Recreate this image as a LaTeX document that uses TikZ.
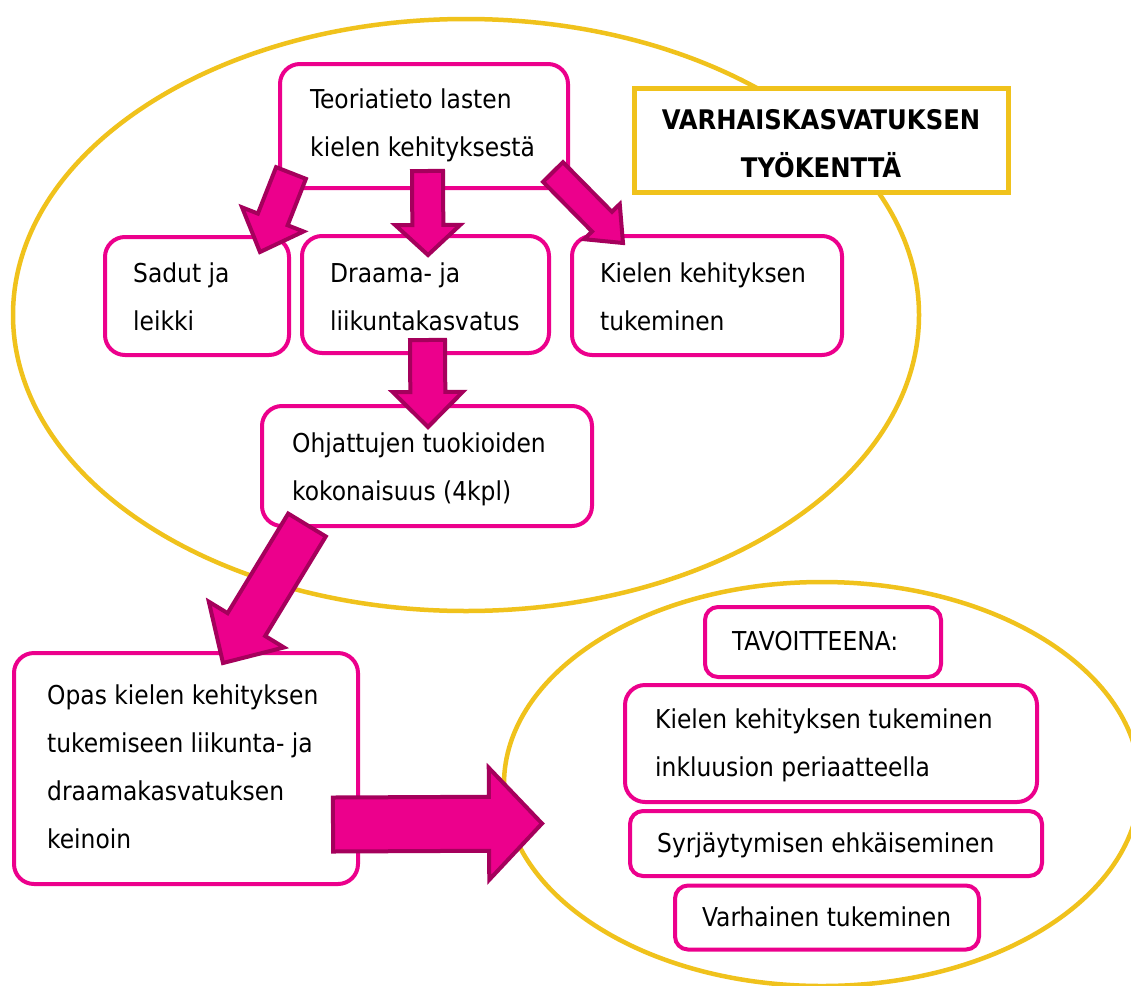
\documentclass[tikz,border=0pt]{standalone}
\usepackage{fontspec}
\setmainfont{DejaVu Sans Condensed}
\usetikzlibrary{calc,shapes.geometric}
\definecolor{pk}{HTML}{EC008C}
\definecolor{pkd}{HTML}{A5005C}
\definecolor{yl}{HTML}{F0C21C}
\newcommand{\tl}[1]{\parbox[t]{12cm}{\raggedright #1}}
\tikzset{
 box/.style={draw=pk, line width=4pt, rounded corners=20pt, fill=white, inner sep=0pt},
 sbox/.style={box, rounded corners=13pt},
 tbox/.style={draw=yl, line width=5pt, fill=white, inner sep=0pt},
 oval/.style={draw=yl, line width=4.5pt, ellipse, inner sep=0pt},
 txt/.style={anchor=base west, inner sep=0pt, font=\fontsize{26}{48}\selectfont},
 barr/.style={fill=pk, draw=pkd, line width=4pt, line join=miter},
}
\newcommand{\blockarrow}[5]{%
  \coordinate (hb) at ($(#2)!#5!(#1)$);
  \draw[barr] ($(#1)!#3!90:(#2)$) -- ($(hb)!#3!90:(#2)$) -- ($(hb)!#4!90:(#2)$) -- (#2)
    -- ($(hb)!#4!-90:(#2)$) -- ($(hb)!#3!-90:(#2)$) -- ($(#1)!#3!-90:(#2)$) -- cycle;
}
\begin{document}
\begin{tikzpicture}[x=1pt,y=-1pt]
\useasboundingbox[fill=white] (0,0) rectangle (1131,985);
% ovals
\node[oval, minimum width=906pt, minimum height=592pt] (field) at (466,315) {};
\node[oval, minimum width=636pt, minimum height=404pt] (goal) at (822,784) {};
% title
\node[tbox, minimum width=374pt, minimum height=104pt] (title) at (821,140) {};
\node[txt, anchor=base, font=\fontsize{27}{48}\selectfont] (titlet) at (821,129) {\parbox[t]{374pt}{\centering\bfseries VARHAISKASVATUKSEN\\TYÖKENTTÄ}};
% boxes
\node[box, minimum width=288pt, minimum height=124pt] (teo) at (424,126) {};
\node[txt] (teot) at (310,108.5) {\tl{Teoriatieto lasten\\kielen kehityksestä}};
\node[box, minimum width=184pt, minimum height=118pt] (sad) at (197,296) {};
\node[txt] (sadt) at (133,282) {\tl{Sadut ja\\leikki}};
\node[box, minimum width=247pt, minimum height=117pt] (dra) at (425.5,294.5) {};
\node[txt] (drat) at (330,282) {\tl{Draama- ja\\liikuntakasvatus}};
\node[box, minimum width=270pt, minimum height=119pt] (kie) at (707,295.5) {};
\node[txt] (kiet) at (600,282) {\tl{Kielen kehityksen\\tukeminen}};
\node[box, minimum width=330pt, minimum height=120pt] (ohj) at (427,466) {};
\node[txt] (ohjt) at (292,452) {\tl{Ohjattujen tuokioiden\\kokonaisuus (4kpl)}};
\node[box, minimum width=344pt, minimum height=231pt] (opa) at (186,768.5) {};
\node[txt] (opat) at (47,704) {\tl{Opas kielen kehityksen\\tukemiseen liikunta- ja\\draamakasvatuksen\\keinoin}};
\node[sbox, minimum width=236pt, minimum height=70pt] (tav) at (823,642) {};
\node[txt] (tavt) at (732,650) {\tl{TAVOITTEENA:}};
\node[box, minimum width=412pt, minimum height=117pt] (ink) at (831,743.5) {};
\node[txt] (inkt) at (655,728.5) {\tl{Kielen kehityksen tukeminen\\inkluusion periaatteella}};
\node[sbox, minimum width=412pt, minimum height=65pt] (syr) at (836,843.5) {};
\node[txt] (syrt) at (657,852.5) {\tl{Syrjäytymisen ehkäiseminen}};
\node[sbox, minimum width=304pt, minimum height=64pt] (var) at (827,917.5) {};
\node[txt] (vart) at (702,926) {\tl{Varhainen tukeminen}};
% block arrows
\coordinate (a1s) at (291,173); \coordinate (a1e) at (260,252);
\coordinate (a2s) at (427.5,171); \coordinate (a2e) at (428,255);
\coordinate (a3s) at (553,172); \coordinate (a3e) at (623,243);
\coordinate (a4s) at (427.5,340); \coordinate (a4e) at (428,427);
\coordinate (a5s) at (307,525); \coordinate (a5e) at (223,663);
\coordinate (a6s) at (333,824.5); \coordinate (a6e) at (542,823.5);
\blockarrow{a1s}{a1e}{16pt}{33pt}{35pt}
\blockarrow{a2s}{a2e}{15.5pt}{32.5pt}{30pt}
\blockarrow{a3s}{a3e}{14pt}{25pt}{30pt}
\blockarrow{a4s}{a4e}{17.5pt}{35pt}{35pt}
\blockarrow{a5s}{a5e}{22pt}{44pt}{45pt}
\blockarrow{a6s}{a6e}{27pt}{56pt}{53pt}
\end{tikzpicture}
\end{document}
